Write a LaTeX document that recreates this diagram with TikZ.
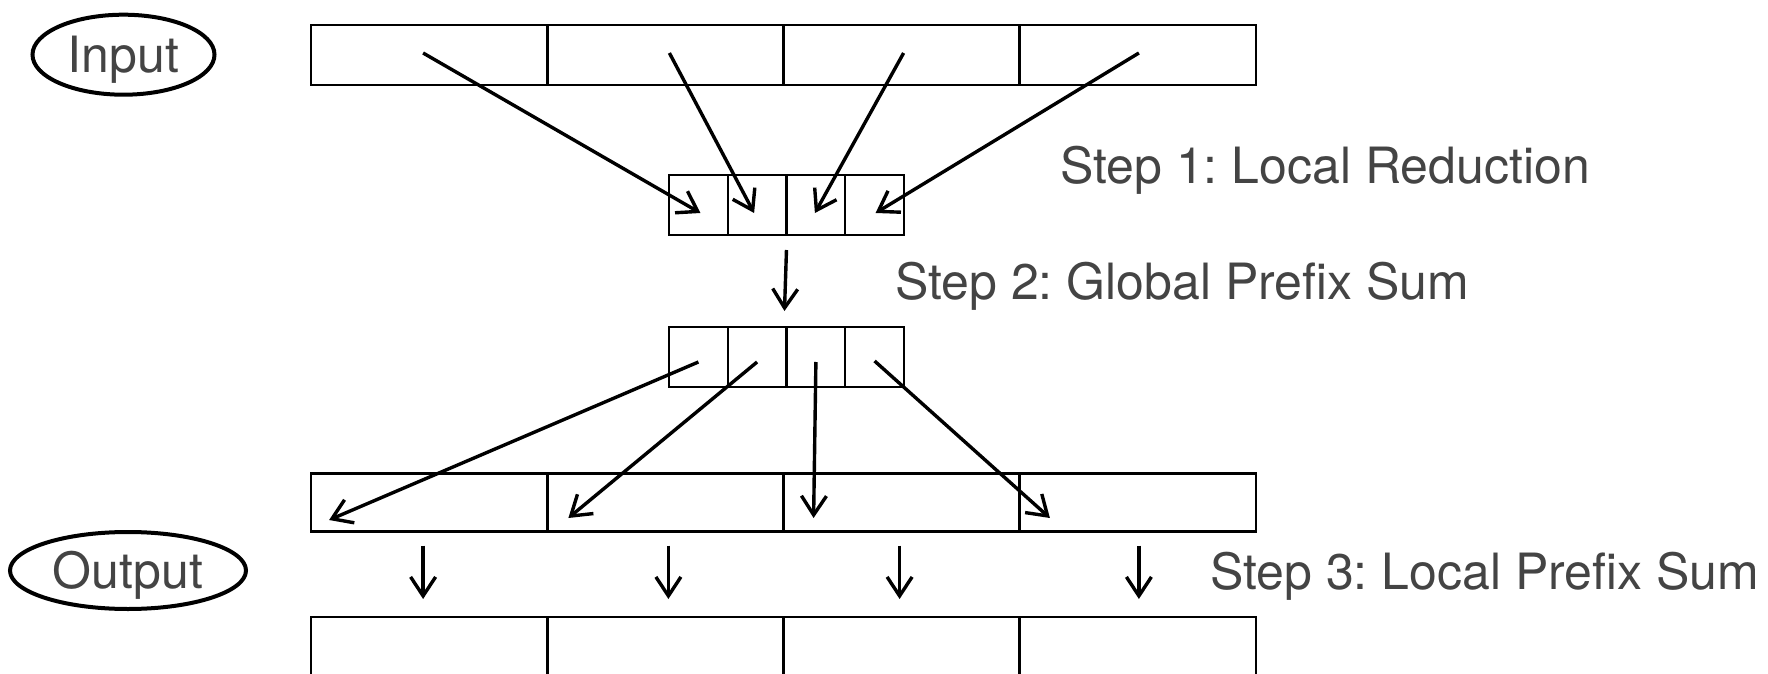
\documentclass[tikz,border=0pt]{standalone}
\usepackage{fontspec}
\setmainfont{TeX Gyre Heros}
\frenchspacing
\usetikzlibrary{arrows.meta,calc,shapes.geometric}
\definecolor{textgray}{HTML}{444444}
\tikzset{
  bigcell/.style={draw, line width=1.15pt, minimum width=118pt, minimum height=30pt, inner sep=0pt, outer sep=0pt},
  smallcell/.style={draw, line width=1.15pt, minimum width=29.375pt, minimum height=30pt, inner sep=0pt, outer sep=0pt},
  flow/.style={line width=1.7pt, -{Straight Barb[length=9.5pt,width=12.5pt,line width=1.7pt]}},
  tag/.style={ellipse, draw, line width=2pt, inner sep=0pt, text=textgray, font=\fontsize{25pt}{30pt}\selectfont, text height=18pt, text depth=0pt},
  steplabel/.style={anchor=base west, inner sep=0pt, text=textgray, font=\fontsize{25pt}{30pt}\selectfont}
}
\begin{document}
\begin{tikzpicture}[x=0.5pt,y=-0.5pt]
\useasboundingbox (0,0) rectangle (1768,674);
% rows
\foreach \i/\x in {1/429.1,2/665.4,3/901.6,4/1137.9}{
  \node[bigcell] (in\i) at (\x,55) {};
  \node[bigcell, minimum height=29pt] (m\i) at (\x,502.5) {};
  \node[bigcell] (o\i) at (\x,647) {};
}
\foreach \i/\x in {1/698.4,2/757.1,3/815.9,4/874.6}{
  \node[smallcell] (r\i) at (\x,205) {};
  \node[smallcell] (g\i) at (\x,357) {};
}
% labels
\node[tag, minimum width=91pt, minimum height=40pt] (input) at (123.5,54.7) {Input};
\node[tag, minimum width=118pt, minimum height=38.5pt] (output) at (128,570.5) {Output};
\node[steplabel] (s1) at (1060,184) {Step 1: Local Reduction};
\node[steplabel] (s2) at (895,299) {Step 2: Global Prefix Sum};
\node[steplabel] (s3) at (1210,589) {Step 3: Local Prefix Sum};
% step 1
\draw[flow] ($(in1.center)+(-6,-2)$) -- ($(r1.center)+(2,8)$);
\draw[flow] ($(in2.center)+(4,-2)$) -- ($(r2.center)+(-3,8)$);
\draw[flow] ($(in3.center)+(2,-2)$) -- ($(r3.center)+(-1,8)$);
\draw[flow] ($(in4.center)+(1,-2)$) -- ($(r4.center)+(1,8)$);
% step 2
\draw[flow] ($(r2.south east)+(0,15)$) -- ($(g2.north east)+(-2,-16)$);
% distribution
\draw[flow] ($(g1.center)+(0,5)$) -- ($(m1.west)+(18,17.5)$);
\draw[flow] ($(g2.center)+(0,5)$) -- ($(m2.west)+(21,15.5)$);
\draw[flow] ($(g3.center)+(0,5)$) -- ($(m3.west)+(30,15.5)$);
\draw[flow] ($(g4.center)+(0,4)$) -- ($(m4.west)+(30,15.5)$);
% step 3
\draw[flow] ($(m1.south)+(-6,14)$) -- ($(o1.north)+(-6,-18)$);
\draw[flow] ($(m2.south)+(3,14)$) -- ($(o2.north)+(3,-18)$);
\draw[flow] ($(m3.south)+(-2,14)$) -- ($(o3.north)+(-2,-18)$);
\draw[flow] ($(m4.south)+(1,14)$) -- ($(o4.north)+(1,-18)$);
\end{tikzpicture}
\end{document}
